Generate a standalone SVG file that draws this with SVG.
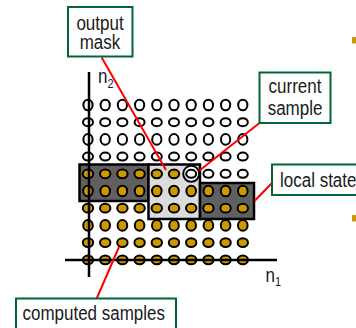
<svg xmlns="http://www.w3.org/2000/svg" xmlns:xlink="http://www.w3.org/1999/xlink" width="356" height="328" viewBox="0 0 356 328">
  <style>
    .lbl { font-family: "Liberation Sans", Arial, sans-serif; font-size: 17px; fill: #1a1a1a; }
    .sub { font-family: "Liberation Sans", Arial, sans-serif; font-size: 11px; fill: #1a1a1a; }
    .box { fill: #ffffff; stroke: #006633; stroke-width: 2; }
    .axis { stroke: #000000; stroke-width: 2.5; fill: none; }
    .region { stroke: #000000; stroke-width: 2.5; }
    .link { stroke: #ff0000; stroke-width: 2; fill: none; }
    .h { fill: #ffffff; stroke: #000000; stroke-width: 2; }
    .g { fill: #cc9900; stroke: #000000; stroke-width: 2; }
    .bullet { fill: #cc9900; }
  </style>
  <defs>
    <ellipse id="ht" class="h" cx="0" cy="0" rx="4.6" ry="5.3"/>
    <ellipse id="hw" class="h" cx="0" cy="0" rx="5" ry="4"/>
    <ellipse id="gt" class="g" cx="0" cy="0" rx="4.8" ry="5.3"/>
    <ellipse id="gw" class="g" cx="0" cy="0" rx="5.2" ry="4.4"/>
  </defs>

  <rect width="356" height="328" fill="#ffffff"/>

  <!-- shaded regions of the sample plane -->
  <g id="regions">
    <rect class="region" x="79.5" y="164.5" width="69" height="36.5" fill="#606060"/>
    <rect class="region" x="148.5" y="164.5" width="51.5" height="54.5" fill="#dcdcdc"/>
    <rect class="region" x="200" y="183" width="54" height="36" fill="#606060"/>
  </g>

  <!-- sample grid: hollow = pending, gold = computed -->
  <g id="samples">
    <!-- row y=105 -->
    <use xlink:href="#ht" x="88" y="105"/><use xlink:href="#ht" x="105.2" y="105"/><use xlink:href="#ht" x="122.4" y="105"/><use xlink:href="#ht" x="139.6" y="105"/><use xlink:href="#ht" x="156.8" y="105"/><use xlink:href="#ht" x="174" y="105"/><use xlink:href="#ht" x="191.2" y="105"/><use xlink:href="#ht" x="208.4" y="105"/><use xlink:href="#ht" x="225.6" y="105"/><use xlink:href="#ht" x="242.8" y="105"/>
    <!-- row y=122.2 -->
    <use xlink:href="#hw" x="88" y="122.2"/><use xlink:href="#hw" x="105.2" y="122.2"/><use xlink:href="#hw" x="122.4" y="122.2"/><use xlink:href="#hw" x="139.6" y="122.2"/><use xlink:href="#hw" x="156.8" y="122.2"/><use xlink:href="#hw" x="174" y="122.2"/><use xlink:href="#hw" x="191.2" y="122.2"/><use xlink:href="#hw" x="208.4" y="122.2"/><use xlink:href="#hw" x="225.6" y="122.2"/><use xlink:href="#hw" x="242.8" y="122.2"/>
    <!-- row y=139.4 -->
    <use xlink:href="#ht" x="88" y="139.4"/><use xlink:href="#ht" x="105.2" y="139.4"/><use xlink:href="#ht" x="122.4" y="139.4"/><use xlink:href="#ht" x="139.6" y="139.4"/><use xlink:href="#ht" x="156.8" y="139.4"/><use xlink:href="#ht" x="174" y="139.4"/><use xlink:href="#ht" x="191.2" y="139.4"/><use xlink:href="#ht" x="208.4" y="139.4"/><use xlink:href="#ht" x="225.6" y="139.4"/><use xlink:href="#ht" x="242.8" y="139.4"/>
    <!-- row y=156.6 -->
    <use xlink:href="#hw" x="88" y="156.6"/><use xlink:href="#hw" x="105.2" y="156.6"/><use xlink:href="#hw" x="122.4" y="156.6"/><use xlink:href="#hw" x="139.6" y="156.6"/><use xlink:href="#hw" x="156.8" y="156.6"/><use xlink:href="#hw" x="174" y="156.6"/><use xlink:href="#hw" x="191.2" y="156.6"/><use xlink:href="#hw" x="208.4" y="156.6"/><use xlink:href="#hw" x="225.6" y="156.6"/><use xlink:href="#hw" x="242.8" y="156.6"/>
    <!-- row y=173.8 (current row) -->
    <use xlink:href="#gw" x="88" y="173.8"/><use xlink:href="#gw" x="105.2" y="173.8"/><use xlink:href="#gw" x="122.4" y="173.8"/><use xlink:href="#gw" x="139.6" y="173.8"/><use xlink:href="#gw" x="156.8" y="173.8"/><use xlink:href="#gw" x="174" y="173.8"/>
    <use xlink:href="#hw" x="208.4" y="173.8"/><use xlink:href="#hw" x="225.6" y="173.8"/><use xlink:href="#hw" x="242.8" y="173.8"/>
    <!-- row y=191 -->
    <use xlink:href="#gt" x="88" y="191"/><use xlink:href="#gt" x="105.2" y="191"/><use xlink:href="#gt" x="122.4" y="191"/><use xlink:href="#gt" x="139.6" y="191"/><use xlink:href="#gt" x="156.8" y="191"/><use xlink:href="#gt" x="174" y="191"/><use xlink:href="#gt" x="191.2" y="191"/><use xlink:href="#gt" x="208.4" y="191"/><use xlink:href="#gt" x="225.6" y="191"/><use xlink:href="#gt" x="242.8" y="191"/>
    <!-- row y=208.2 -->
    <use xlink:href="#gw" x="88" y="208.2"/><use xlink:href="#gw" x="105.2" y="208.2"/><use xlink:href="#gw" x="122.4" y="208.2"/><use xlink:href="#gw" x="139.6" y="208.2"/><use xlink:href="#gw" x="156.8" y="208.2"/><use xlink:href="#gw" x="174" y="208.2"/><use xlink:href="#gw" x="191.2" y="208.2"/><use xlink:href="#gw" x="208.4" y="208.2"/><use xlink:href="#gw" x="225.6" y="208.2"/><use xlink:href="#gw" x="242.8" y="208.2"/>
    <!-- row y=225.4 -->
    <use xlink:href="#gt" x="88" y="225.4"/><use xlink:href="#gt" x="105.2" y="225.4"/><use xlink:href="#gt" x="122.4" y="225.4"/><use xlink:href="#gt" x="139.6" y="225.4"/><use xlink:href="#gt" x="156.8" y="225.4"/><use xlink:href="#gt" x="174" y="225.4"/><use xlink:href="#gt" x="191.2" y="225.4"/><use xlink:href="#gt" x="208.4" y="225.4"/><use xlink:href="#gt" x="225.6" y="225.4"/><use xlink:href="#gt" x="242.8" y="225.4"/>
    <!-- row y=242.6 -->
    <use xlink:href="#gw" x="88" y="242.6"/><use xlink:href="#gw" x="105.2" y="242.6"/><use xlink:href="#gw" x="122.4" y="242.6"/><use xlink:href="#gw" x="139.6" y="242.6"/><use xlink:href="#gw" x="156.8" y="242.6"/><use xlink:href="#gw" x="174" y="242.6"/><use xlink:href="#gw" x="191.2" y="242.6"/><use xlink:href="#gw" x="208.4" y="242.6"/><use xlink:href="#gw" x="225.6" y="242.6"/><use xlink:href="#gw" x="242.8" y="242.6"/>
    <!-- row y=259.8 -->
    <use xlink:href="#gw" x="88" y="259.8"/><use xlink:href="#gw" x="105.2" y="259.8"/><use xlink:href="#gw" x="122.4" y="259.8"/><use xlink:href="#gw" x="139.6" y="259.8"/><use xlink:href="#gw" x="156.8" y="259.8"/><use xlink:href="#gw" x="174" y="259.8"/><use xlink:href="#gw" x="191.2" y="259.8"/><use xlink:href="#gw" x="208.4" y="259.8"/><use xlink:href="#gw" x="225.6" y="259.8"/><use xlink:href="#gw" x="242.8" y="259.8"/>
  </g>

  <!-- current sample marker -->
  <g id="current">
    <circle cx="191.2" cy="173.8" r="8" fill="#ffffff" stroke="#000000" stroke-width="2"/>
    <ellipse cx="191.2" cy="173.8" rx="5" ry="4" fill="#ffffff" stroke="#000000" stroke-width="2"/>
  </g>

  <!-- axes -->
  <g id="axes">
    <line class="axis" x1="89" y1="72" x2="89" y2="277"/>
    <line class="axis" x1="65" y1="260" x2="277" y2="260"/>
    <text class="lbl" transform="translate(98,83.3) scale(1,1.15)">n</text>
    <text class="sub" transform="translate(107.5,87.5) scale(1,1.15)">2</text>
    <text class="lbl" transform="translate(265.5,281.7) scale(1,1.15)">n</text>
    <text class="sub" transform="translate(275,285.5) scale(1,1.15)">1</text>
  </g>

  <!-- connectors from labels to grid -->
  <g id="connectors">
    <line class="link" x1="101.7" y1="57.5" x2="166" y2="170"/>
    <line class="link" x1="259.5" y1="123" x2="199.5" y2="170.5"/>
    <line class="link" x1="272" y1="183" x2="254.5" y2="201"/>
    <line class="link" x1="96.7" y1="298.5" x2="119" y2="247"/>
  </g>

  <g id="label-output-mask">
    <rect class="box" x="68" y="7" width="64.5" height="49.5"/>
    <text class="lbl" text-anchor="middle" transform="translate(100,30) scale(1,1.15)">output</text>
    <text class="lbl" text-anchor="middle" transform="translate(100,48.5) scale(1,1.15)">mask</text>
  </g>

  <g id="label-current-sample">
    <rect class="box" x="259.5" y="72.5" width="71" height="50.5"/>
    <text class="lbl" text-anchor="middle" transform="translate(295,93.3) scale(1,1.15)">current</text>
    <text class="lbl" text-anchor="middle" transform="translate(295,114.5) scale(1,1.15)">sample</text>
  </g>

  <g id="label-local-state">
    <rect class="box" x="272" y="164.5" width="100" height="30.5"/>
    <text class="lbl" transform="translate(280,186.5) scale(1,1.15)">local state</text>
  </g>

  <g id="label-computed-samples">
    <rect class="box" x="16" y="298.5" width="160" height="40"/>
    <text class="lbl" transform="translate(22.5,320) scale(1,1.15)">computed samples</text>
  </g>

  <!-- bullet marks at the right edge -->
  <g id="bullets">
    <rect class="bullet" x="352" y="37" width="7" height="6.5"/>
    <rect class="bullet" x="352" y="215" width="7" height="6.5"/>
  </g>
</svg>
